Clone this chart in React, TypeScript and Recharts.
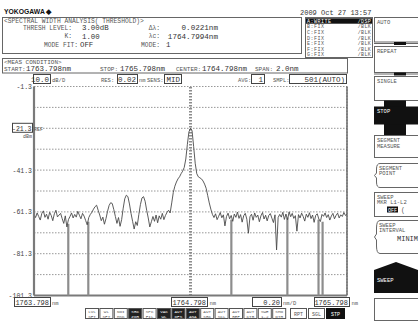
import React from "react";
import { LineChart, Line, XAxis, YAxis, CartesianGrid, ReferenceLine } from "recharts";

// ---------- data ----------
const START_NM = 1763.798;
const STOP_NM = 1765.798;
const CENTER_NM = 1764.798;
const STEP_NM = 0.01;

const TRACE_A_DBM = [
  -62.5, -64.0, -61.8, -63.5, -65.2, -62.0, -60.8, -63.9, -62.4, -64.8, -61.5, -63.0, -65.5, -62.2, -60.5, -63.7, -62.8,
  -62.0, -64.5, -66.8, -63.2, -68.5, -65.0,
  -63.5, -61.8, -64.2, -62.5, -63.8, -61.0, -62.9, -64.6, -62.0, -63.3, -65.4,
  -67.5, -64.0, -62.5,
  -61.5, -60.0, -58.8, -58.1, -60.5, -62.8,
  -65.5, -63.8, -67.2, -64.5,
  -61.0, -58.2, -56.9, -57.3, -60.2,
  -63.5, -66.8, -64.0, -68.2, -65.0,
  -59.5, -55.0, -53.3, -54.0, -57.5, -62.0,
  -65.8, -69.5, -66.0, -67.8,
  -62.5, -57.8, -54.6, -54.0, -56.2, -60.5,
  -64.2, -68.5, -66.0, -63.5,
  -65.8, -62.8, -66.5, -63.2, -64.8, -62.0, -65.0, -63.0, -61.5,
  -60.5, -61.8, -57.0, -52.0, -49.0, -47.0, -45.5, -44.5, -43.0, -41.8, -40.0, -36.0, -29.0, -23.0, -21.3,
  -22.5, -30.0, -38.0, -43.0, -44.5, -45.0, -45.5, -46.5, -48.0, -50.0, -53.5, -57.0, -60.0, -62.5, -64.0,
  -62.2, -65.0, -63.4, -61.6, -64.1, -62.7, -68.0, -63.5, -61.9, -64.6,
  -63.0, -65.8, -62.3, -63.9, -61.4, -64.4, -62.6, -66.2, -63.1, -62.0,
  -64.8, -71.5, -63.6, -62.4, -65.3, -61.8, -63.9, -62.8, -66.0, -63.2,
  -61.6, -64.7, -62.9, -65.6, -63.0, -62.1, -64.3, -66.4, -62.7, -79.5,
  -64.0, -62.5, -63.8, -61.5, -64.9, -62.3, -65.1, -61.3, -63.6, -62.0,
  -64.4, -63.1, -70.5, -62.6, -64.2, -61.9, -63.5, -65.7, -62.4, -63.9,
  -61.7, -64.5, -62.8, -66.3, -63.0, -62.2, -64.7, -65.9, -62.5, -63.4,
  -61.8, -64.0, -62.6, -65.2, -63.3, -62.0, -64.6, -63.0, -61.9, -64.2,
  -62.7, -63.5, -61.6, -63.0, -62.5,
];

const DIP_NM = [1764.017, 1764.145, 1765.059, 1765.417, 1765.616, 1765.642];
const DIP_TOP_DBM = [-67, -66, -65, -64, -65, -66];

const X_TICKS = [1763.798, 1763.998, 1764.198, 1764.398, 1764.598, 1764.798, 1764.998, 1765.198, 1765.398, 1765.598, 1765.798];
const Y_TICKS = [-101.3, -91.3, -81.3, -71.3, -61.3, -51.3, -41.3, -31.3, -21.3, -11.3, -1.3];
const Y_LABELS = [-1.3, -41.3, -61.3, -81.3, -101.3];
const REF_LEVEL = -21.3;
const Y_MIN = -101.3;
const Y_MAX = -1.3;

const TRACE_ROWS = [
  ["A:WRITE", "/DSP"],
  ["B:FIX", "/BLK"],
  ["C:FIX", "/BLK"],
  ["D:FIX", "/BLK"],
  ["E:FIX", "/BLK"],
  ["F:FIX", "/BLK"],
  ["G:FIX", "/BLK"],
];

const FUNC_KEYS = [
  ["LVL", "SFT"], ["WL", "SFT"], ["NOI", "MSK"], ["SRC", "ZOR"], ["SPC", "FIL"], ["VAC", "WL"], ["AUT", "OFS"],
  ["AUT", "ANA"], ["AUT", "SRC"], ["AUT", "SCL"], ["AUT", "REF"], ["AUT", "CTR"], ["SWE", "1-2"], ["SMO", "OTH"],
];
const FUNC_ON = [false, false, false, true, false, true, true, true, false, false, false, false, false, false];

const traceData = TRACE_A_DBM.map((v, i) => ({ nm: START_NM + i * STEP_NM, dbm: v }));

// ---------- styles ----------
const MONO = "'Liberation Mono', 'DejaVu Sans Mono', monospace";
const INK = "#333";
const LBL = "#555";

const T = (p: any) => <text fontFamily={MONO} fill={INK} {...p} />;

const Boxed = ({ x, y, w, h, text, fs = 7.5 }: any) => (
  <g>
    <rect x={x} y={y} width={w} height={h} fill="#fff" stroke="#444" strokeWidth={1} />
    <T x={x + w - 1.5} y={y + h - 1.8} fontSize={fs} textAnchor="end">{text}</T>
  </g>
);

const YTick = (props: any) => {
  const { x, y, payload } = props;
  const v = payload.value;
  if (v === REF_LEVEL) {
    return (
      <g>
        <rect x={12.5} y={y - 5} width={20} height={9} fill="#fff" stroke="#444" />
        <T x={31.5} y={y + 2.5} fontSize={6.5} textAnchor="end">{v.toFixed(1)}</T>
        <T x={34} y={y + 2.5} fontSize={5} fill={LBL}>REF</T>
        <T x={32} y={y + 10} fontSize={5} fill={LBL} textAnchor="end">dBm</T>
      </g>
    );
  }
  if (Y_LABELS.includes(v)) {
    return (
      <T x={x} y={y + 2.5} fontSize={6.5} textAnchor="end" fill="#444">{v.toFixed(1)}</T>
    );
  }
  return <g />;
};

const Overlay = () => (
  <svg width={418} height={321} style={{ position: "absolute", left: 0, top: 0 }}>
    {/* logo & date */}
    <text x={4} y={14} fontFamily="'Liberation Sans', sans-serif" fontWeight="bold" fontSize={6.8} fill="#111">YOKOGAWA ◆</text>
    <T x={300} y={14.5} fontSize={7}>2009 Oct 27 13:57</T>

    {/* analysis panel */}
    <rect x={2.5} y={17.5} width={299} height={36} fill="none" stroke="#666" />
    <T x={4} y={22.5} fontSize={6.3} fill={LBL}>&lt;SPECTRAL WIDTH ANALYSIS( THRESHOLD)&gt;</T>
    <T x={72} y={30} fontSize={6.3} fill={LBL} textAnchor="end">THRESH LEVEL:</T>
    <T x={82} y={30.3} fontSize={7.4}>3.00dB</T>
    <T x={72} y={38.3} fontSize={6.3} fill={LBL} textAnchor="end">K:</T>
    <T x={82} y={38.6} fontSize={7.4}>1.00</T>
    <T x={78} y={46.5} fontSize={6.3} fill={LBL} textAnchor="end">MODE FIT:</T>
    <T x={80} y={46.8} fontSize={7.4}>OFF</T>
    <T x={160} y={30} fontSize={6.3} fill={LBL} textAnchor="end">Δλ:</T>
    <T x={218} y={30.3} fontSize={7.6} textAnchor="end">0.0221nm</T>
    <T x={160} y={38.3} fontSize={6.3} fill={LBL} textAnchor="end">λc:</T>
    <T x={218} y={38.6} fontSize={7.6} textAnchor="end">1764.7994nm</T>
    <T x={160} y={46.5} fontSize={6.3} fill={LBL} textAnchor="end">MODE:</T>
    <T x={166} y={46.8} fontSize={7.4}>1</T>

    {/* trace list */}
    <rect x={305.5} y={17.5} width={67} height={40} fill="#fff" stroke="#666" />
    {TRACE_ROWS.map((r, i) => (
      <g key={i}>
        {i === 0 && <rect x={306} y={18.3} width={66} height={5.4} fill="#111" />}
        <T x={307} y={22.8 + i * 5.6} fontSize={5} letterSpacing={0.5} fill={i === 0 ? "#fff" : LBL}>{r[0]}</T>
        <T x={371} y={22.8 + i * 5.6} fontSize={5} letterSpacing={0.3} fill={i === 0 ? "#fff" : LBL} textAnchor="end">{r[1]}</T>
      </g>
    ))}

    {/* meas condition */}
    <rect x={2.5} y={58.5} width={345} height={14.5} fill="none" stroke="#666" />
    <T x={4} y={63.5} fontSize={6} fill={LBL}>&lt;MEAS CONDITION&gt;</T>
    <T x={4} y={70.8} fontSize={6} fill={LBL}>START:</T>
    <T x={26} y={71.3} fontSize={7.5}>1763.798nm</T>
    <T x={100} y={70.8} fontSize={6} fill={LBL}>STOP:</T>
    <T x={120} y={71.3} fontSize={7.5}>1765.798nm</T>
    <T x={176} y={70.8} fontSize={6} fill={LBL}>CENTER:</T>
    <T x={202} y={71.3} fontSize={7.5}>1764.798nm</T>
    <T x={255} y={70.8} fontSize={6} fill={LBL}>SPAN:</T>
    <T x={276} y={71.3} fontSize={7.5}>2.0nm</T>

    {/* settings row */}
    <Boxed x={33.5} y={74.5} w={17} h={9} text="10.0" />
    <T x={52} y={82} fontSize={5.5} fill={LBL}>dB/D</T>
    <T x={101} y={82} fontSize={5.5} fill={LBL}>RES:</T>
    <Boxed x={117.5} y={74.5} w={20} h={9} text="0.02" />
    <T x={139} y={82} fontSize={5.5} fill={LBL}>nm</T>
    <T x={147} y={82} fontSize={5.5} fill={LBL}>SENS:</T>
    <Boxed x={164.5} y={74.5} w={17} h={9} text="MID" />
    <T x={238} y={82} fontSize={5.5} fill={LBL}>AVG:</T>
    <Boxed x={251.5} y={74.5} w={13} h={9} text="1" />
    <T x={273} y={82} fontSize={5.5} fill={LBL}>SMPL:</T>
    <Boxed x={289.5} y={74.5} w={57} h={9} text="501(AUTO)" />

    {/* soft keys */}
    <rect x={374.5} y={17.5} width={45} height={24.5} fill="#fff" stroke="#666" />
    <T x={377} y={24} fontSize={5.5} fill={LBL}>AUTO</T>
    <line x1={374} y1={43.5} x2={418} y2={43.5} stroke="#666" />
    <rect x={394} y={42} width={12} height={3} fill="#111" />
    <rect x={374.5} y={46.5} width={45} height={26} fill="#fff" stroke="#666" />
    <T x={377} y={53} fontSize={5.5} fill={LBL}>REPEAT</T>
    <line x1={374} y1={74} x2={418} y2={74} stroke="#666" />
    <rect x={394} y={72.5} width={12} height={3} fill="#111" />
    <rect x={374.5} y={76.5} width={45} height={24} fill="#fff" stroke="#666" />
    <T x={377} y={83} fontSize={5.5} fill={LBL}>SINGLE</T>
    <rect x={384} y={100.5} width={22} height={35} fill="#111" />
    <rect x={374} y={106.5} width={44} height={18} fill="#111" />
    <T x={377} y={113} fontSize={5.5} fill="#fff">STOP</T>
    <rect x={374.5} y={135.5} width={45} height={22} fill="#fff" stroke="#666" />
    <T x={377} y={142} fontSize={5.5} fill={LBL}>SEGMENT</T>
    <T x={377} y={147.5} fontSize={5.5} fill={LBL}>MEASURE</T>
    <path d="M380 163.5 L418 163.5 M380 187.5 L418 187.5 M380 163.5 Q376.5 163.5 376.5 169 L376.5 173 L374.5 175.5 L376.5 178 L376.5 182 Q376.5 187.5 380 187.5" fill="none" stroke="#666" />
    <T x={379} y={169.5} fontSize={5.5} fill={LBL}>SEGMENT</T>
    <T x={379} y={175} fontSize={5.5} fill={LBL}>POINT</T>
    <rect x={374.5} y={192.5} width={45} height={24} fill="#fff" stroke="#666" />
    <T x={377} y={198.5} fontSize={5.5} fill={LBL}>SWEEP</T>
    <T x={377} y={204} fontSize={5.5} fill={LBL}>MKR L1-L2</T>
    <rect x={387} y={206.5} width={11} height={6} fill="#111" />
    <T x={388} y={211.5} fontSize={5} fill="#fff">OFF</T>
    <T x={401} y={212} fontSize={6.5} fill={LBL}>(</T>
    <path d="M380 220.5 L418 220.5 M380 253.5 L418 253.5 M380 220.5 Q376.5 220.5 376.5 228 L376.5 234 L374.5 237 L376.5 240 L376.5 246 Q376.5 253.5 380 253.5" fill="none" stroke="#666" />
    <T x={379} y={226.5} fontSize={5.5} fill={LBL}>SWEEP</T>
    <T x={379} y={232} fontSize={5.5} fill={LBL}>INTERVAL</T>
    <T x={397} y={241} fontSize={7} fill={INK}>MINIMUM</T>
    <path d="M374 293 L374 270 L396 262 L418 270 L418 293 Z" fill="#111" />
    <T x={377} y={282} fontSize={5.5} fill="#fff">SWEEP</T>
    <rect x={374.5} y={298.5} width={45} height={22} fill="#fff" stroke="#666" />

    {/* bottom scale labels */}
    <Boxed x={14.5} y={297.5} w={36} h={9} text="1763.798" fs={7} />
    <T x={52} y={305} fontSize={5.5} fill={LBL}>nm</T>
    <Boxed x={171.5} y={297.5} w={36} h={9} text="1764.798" fs={7} />
    <T x={209.5} y={305} fontSize={5.5} fill={LBL}>nm</T>
    <Boxed x={252.5} y={297.5} w={29} h={9} text="0.20" fs={7} />
    <T x={283} y={305} fontSize={5.5} fill={LBL}>nm/D</T>
    <Boxed x={314.5} y={297.5} w={35} h={9} text="1765.798" fs={7} />
    <T x={351.5} y={305} fontSize={5.5} fill={LBL}>nm</T>

    {/* function key row */}
    {FUNC_KEYS.map((k, i) => {
      const x = 85 + i * 14.4;
      const on = FUNC_ON[i];
      return (
        <g key={i}>
          <rect x={x + 0.5} y={308.5} width={13} height={10} fill={on ? "#222" : "#fff"} stroke="#555" />
          <T x={x + 7} y={313} fontSize={4.3} textAnchor="middle" fill={on ? "#fff" : LBL}>{k[0]}</T>
          <T x={x + 7} y={317.5} fontSize={4.3} textAnchor="middle" fill={on ? "#fff" : LBL}>{k[1]}</T>
        </g>
      );
    })}
    <rect x={290.5} y={308.5} width={16} height={10} fill="#fff" stroke="#555" />
    <T x={298.5} y={315.5} fontSize={5} textAnchor="middle" fill={LBL}>RPT</T>
    <rect x={308.5} y={308.5} width={16} height={10} fill="#fff" stroke="#555" />
    <T x={316.5} y={315.5} fontSize={5} textAnchor="middle" fill={LBL}>SGL</T>
    <rect x={326.5} y={308.5} width={18} height={10} fill="#111" stroke="#111" />
    <T x={335.5} y={315.5} fontSize={5} textAnchor="middle" fill="#fff">STP</T>
  </svg>
);

export default function App() {
  return (
    <div style={{ position: "absolute", left: 0, top: 0, width: 418, height: 321, background: "#fff", overflow: "hidden" }}>
      <div style={{ position: "absolute", left: 0, top: 0 }}>
        <LineChart width={418} height={321} data={traceData} margin={{ top: 86.5, right: 71, bottom: 25.5, left: 0 }}>
          <CartesianGrid stroke="#8c8c8c" strokeDasharray="1.5 1.5" strokeWidth={0.9} />
          <XAxis
            dataKey="nm"
            type="number"
            domain={[START_NM, STOP_NM]}
            ticks={X_TICKS}
            interval={0}
            tick={false}
            axisLine={false}
            tickLine={false}
            height={0}
            allowDataOverflow
          />
          <YAxis
            type="number"
            domain={[Y_MIN, Y_MAX]}
            ticks={Y_TICKS}
            interval={0}
            width={34}
            tick={(p: any) => <YTick {...p} />}
            tickLine={false}
            tickSize={0}
            tickMargin={2}
            axisLine={{ stroke: "#7a7a7a", strokeWidth: 2.2 }}
            allowDataOverflow
          />
          <ReferenceLine x={CENTER_NM} stroke="#8c8c8c" strokeWidth={3} strokeDasharray="1.5 1.5" ifOverflow="extendDomain" />
          <ReferenceLine x={STOP_NM} stroke="#555" strokeWidth={1.3} />
          <ReferenceLine y={Y_MIN} stroke="#7a7a7a" strokeWidth={2.2} />
          {DIP_NM.map((x, i) => (
            <ReferenceLine
              key={i}
              segment={[{ x, y: DIP_TOP_DBM[i] }, { x, y: Y_MIN }]}
              stroke="#8d8d8d"
              strokeWidth={2.2}
            />
          ))}
          <Line
            type="linear"
            dataKey="dbm"
            stroke="#4a4a4a"
            strokeWidth={0.9}
            dot={false}
            isAnimationActive={false}
          />
        </LineChart>
      </div>
      <Overlay />
    </div>
  );
}
